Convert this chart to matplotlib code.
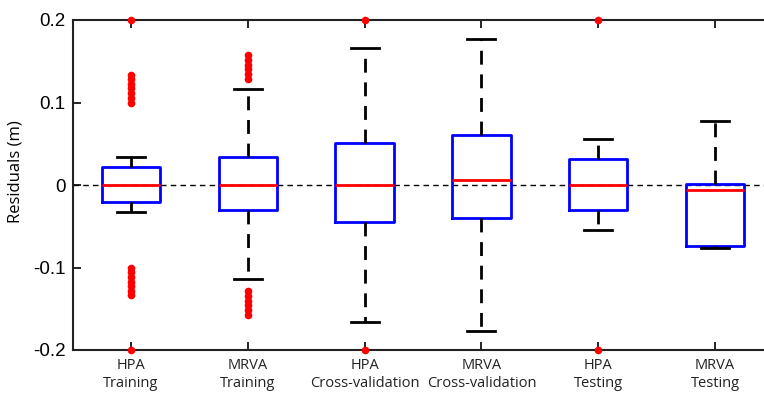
import numpy as np
import matplotlib.pyplot as plt

# box statistics
labels = ['HPA\nTraining', 'MRVA\nTraining', 'HPA\nCross-validation',
          'MRVA\nCross-validation', 'HPA\nTesting', 'MRVA\nTesting']
medians = [0.0, 0.0, 0.0, 0.006, 0.0, -0.006]
q1 = [-0.021, -0.030, -0.045, -0.040, -0.030, -0.074]
q3 = [0.022, 0.034, 0.051, 0.061, 0.031, 0.001]
whisker_lo = [-0.033, -0.114, -0.166, -0.177, -0.055, -0.076]
whisker_hi = [0.034, 0.116, 0.166, 0.177, 0.056, 0.077]
outliers = [
    [0.100, 0.105, 0.111, 0.117, 0.122, 0.128, 0.133,
     -0.100, -0.105, -0.111, -0.117, -0.122, -0.128, -0.133, 0.2, -0.2],
    [0.128, 0.134, 0.140, 0.146, 0.152, 0.157,
     -0.128, -0.134, -0.140, -0.146, -0.152, -0.157],
    [0.2, -0.2],
    [],
    [0.2, -0.2],
    [],
]

stats = []
for i in range(len(labels)):
    stats.append(dict(med=medians[i], q1=q1[i], q3=q3[i],
                      whislo=whisker_lo[i], whishi=whisker_hi[i],
                      fliers=outliers[i], label=labels[i]))

fig = plt.figure(figsize=(7.64, 3.94), dpi=100)
ax = fig.add_axes([72.5 / 764, 44 / 394, 701 / 764, 330 / 394])

ax.axhline(0, color='black', linestyle='--', linewidth=1.0, dashes=(4, 3), zorder=1)

bp = ax.bxp(stats, positions=np.arange(1, 7), widths=0.5,
            boxprops=dict(color='#0000ff', linewidth=2.0),
            medianprops=dict(color='#ff0000', linewidth=2.0),
            whiskerprops=dict(color='black', linewidth=2.0, linestyle=(0, (5, 3.5))),
            capprops=dict(color='black', linewidth=2.0),
            flierprops=dict(marker='o', markerfacecolor='#ff0000', markeredgecolor='#ff0000',
                            markersize=4.5, linestyle='none'),
            capwidths=0.24, zorder=3)
for f in bp['fliers']:
    f.set_clip_on(False)

ax.set_xlim(0.5, 6.5)
ax.set_ylim(-0.2, 0.2)
ax.set_yticks([-0.2, -0.1, 0, 0.1, 0.2])
ax.set_yticklabels(['-0.2', '-0.1', '0', '0.1', '0.2'], family='Liberation Sans', fontsize=13.5)
ax.set_xticks(np.arange(1, 7))
ax.set_xticklabels(labels, family='Open Sans', fontsize=10.5, color='#222222', linespacing=1.2)
ax.tick_params(direction='in', length=6, width=1.2, top=True, right=True)
ax.tick_params(axis='x', pad=6)
ax.tick_params(axis='y', pad=5)
ax.set_ylabel('Residuals (m)', family='Open Sans', fontsize=12, labelpad=7)
ax.yaxis.label.set_y(0.54)
for s in ax.spines.values():
    s.set_linewidth(1.5)
    s.set_color('#222222')

fig.savefig('out.png', dpi=100)
